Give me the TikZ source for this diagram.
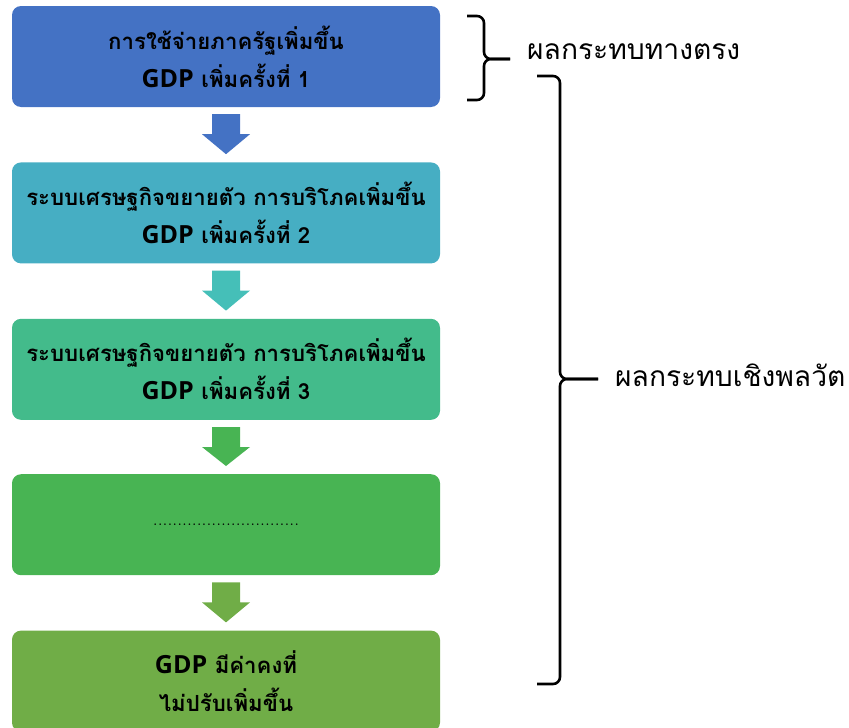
\documentclass[tikz,border=0pt]{standalone}
\usepackage{fontspec}
\newfontfamily\thaifont[Script=Thai]{Loma}
\newfontfamily\gdpfont{Open Sans}
\usetikzlibrary{positioning,calc}
\definecolor{boxone}{HTML}{4472C4}
\definecolor{boxtwo}{HTML}{46AEC3}
\definecolor{arrowtwo}{HTML}{45BFB8}
\definecolor{boxthree}{HTML}{43BB8B}
\definecolor{boxfour}{HTML}{48B453}
\definecolor{boxfive}{HTML}{70AD47}
\tikzset{
  stage/.style={rounded corners=9pt,minimum width=428pt,minimum height=101pt,
    align=center,inner sep=0pt,text=black,
    font=\thaifont\bfseries\fontsize{22.2}{38}\selectfont},
  brace/.style={draw=black,line width=2.6pt,rounded corners=7pt},
  effect/.style={anchor=west,inner sep=0pt,font=\thaifont\fontsize{28.2}{32}\selectfont}
}
\newcommand{\gdp}{{\gdpfont\bfseries\fontsize{25}{38}\selectfont GDP}}
% block arrow between two stacked boxes
\newcommand{\blockarrow}[3]{%
  \fill[#3] ($(#1.south)+(-14pt,-7pt)$) -- ($(#1.south)+(14pt,-7pt)$)
    -- ($(#1.south)+(14pt,-27pt)$) -- ($(#1.south)+(24pt,-27pt)$)
    -- ($(#2.north)+(0pt,8pt)$) -- ($(#1.south)+(-24pt,-27pt)$)
    -- ($(#1.south)+(-14pt,-27pt)$) -- cycle;}

\begin{document}
\begin{tikzpicture}[x=1pt,y=-1pt,node distance=55pt]
  \useasboundingbox (0,0) rectangle (849,728);
  \node[stage,fill=boxone] (s1) at (226,56.5) {การใช้จ่ายภาครัฐเพิ่มขึ้น\\ \gdp{} เพิ่มครั้งที่ 1};
  \node[stage,fill=boxtwo,below=of s1] (s2) {ระบบเศรษฐกิจขยายตัว การบริโภคเพิ่มขึ้น\\ \gdp{} เพิ่มครั้งที่ 2};
  \node[stage,fill=boxthree,below=of s2] (s3) {ระบบเศรษฐกิจขยายตัว การบริโภคเพิ่มขึ้น\\ \gdp{} เพิ่มครั้งที่ 3};
  \node[stage,fill=boxfour,below=54pt of s3] (s4) {\rmfamily\mdseries\fontsize{19.5}{20}\selectfont ..............................};
  \node[stage,fill=boxfive,below=of s4] (s5) {\gdp{} มีค่าคงที่\\ ไม่ปรับเพิ่มขึ้น};

  \blockarrow{s1}{s2}{boxone}
  \blockarrow{s2}{s3}{arrowtwo}
  \blockarrow{s3}{s4}{boxfour}
  \blockarrow{s4}{s5}{boxfive}

  % braces
  \coordinate (d) at (510,59);
  \draw[brace] (467,16) -- (484,16) -- (484,59) -- (d);
  \draw[brace] (467,100) -- (484,100) -- (484,59) -- (d);
  \node[effect] (direct) at (527,52) {ผลกระทบทางตรง};

  \coordinate (m) at (598,379);
  \draw[brace] (537,76) -- (560,76) -- (560,379) -- (m);
  \draw[brace] (537,684) -- (560,684) -- (560,379) -- (m);
  \node[effect] (dynamic) at (615,375) {ผลกระทบเชิงพลวัต};
\end{tikzpicture}
\end{document}
